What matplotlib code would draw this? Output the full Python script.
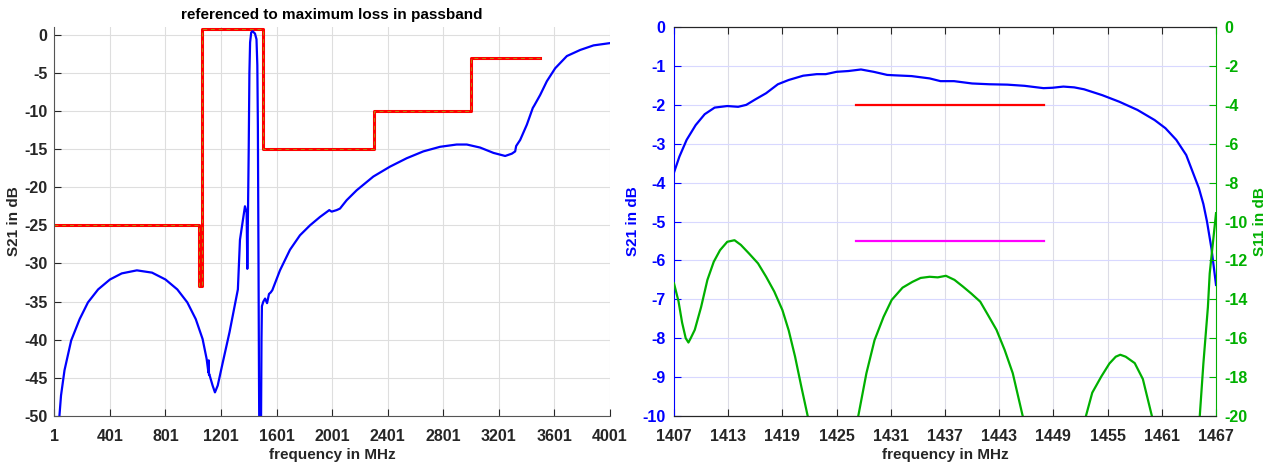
import numpy as np
import matplotlib
matplotlib.use('Agg')
import matplotlib.pyplot as plt

plt.rcParams['font.family'] = ['Liberation Sans', 'DejaVu Sans']
plt.rcParams['font.weight'] = 'bold'
plt.rcParams['font.size'] = 11
plt.rcParams['axes.unicode_minus'] = False

# wideband S21 (left panel)
wide_f = [37, 49, 74, 122, 183, 243, 316, 401, 486, 595, 704, 801, 886, 958, 1019, 1068,
          1097, 1110, 1112, 1114, 1116, 1140, 1157, 1177, 1213, 1262, 1322, 1337, 1373,
          1385, 1390, 1393, 1400, 1405, 1410, 1418, 1428, 1445, 1456, 1462, 1466, 1470,
          1474, 1477, 1484, 1489, 1492, 1495, 1505, 1518, 1532, 1546, 1558, 1570, 1625,
          1697, 1769, 1841, 1913, 1980, 1997, 2033, 2057, 2105, 2177, 2297, 2417, 2537,
          2657, 2777, 2897, 2970, 3066, 3162, 3246, 3294, 3318, 3325, 3354, 3402, 3445,
          3455, 3498, 3546, 3606, 3690, 3786, 3882, 4001]
wide_s21 = [-50.1, -47.3, -44, -40.1, -37.3, -35.1, -33.4, -32.1, -31.3, -30.9, -31.2,
            -32.1, -33.4, -35.1, -37.3, -39.9, -42.5, -44.3, -42.7, -44.6, -44.5, -46,
            -46.9, -46, -43, -39, -33.4, -26.9, -22.5, -23.3, -30.7, -26, -15, -5, -1,
            0.3, 0.45, 0.15, -0.6, -4, -12, -28, -45, -55, -55, -50, -40, -35.6, -35.0,
            -34.6, -35.2, -34.0, -33.8, -33.5, -30.9, -28.2, -26.3, -25.0, -23.9, -23.0,
            -23.2, -23.0, -22.8, -21.7, -20.4, -18.6, -17.3, -16.2, -15.3, -14.7, -14.4,
            -14.4, -14.8, -15.5, -15.9, -15.6, -15.3, -14.6, -13.8, -11.8, -9.6, -9.3,
            -7.9, -6.1, -4.4, -2.8, -2.0, -1.4, -1.1]

# limit mask (left panel)
mask_f = [1, 1040, 1040, 1065, 1065, 1500, 1500, 2300, 2300, 3000, 3000, 3500]
mask_db = [-25, -25, -33, -33, 0.8, 0.8, -15, -15, -10, -10, -3, -3]

# passband S21 (right panel, left axis)
pb_f = [1407, 1407.6, 1408.4, 1409.4, 1410.4, 1411.5, 1412.9, 1414.1, 1415.0, 1416.0,
        1417.2, 1418.5, 1419.7, 1421.3, 1422.8, 1423.8, 1425.0, 1426.3, 1427.7, 1429.1,
        1430.6, 1431.4, 1433.3, 1435.3, 1436.5, 1438.0, 1440.0, 1441.9, 1443.9, 1445.8,
        1447.9, 1448.9, 1450.1, 1451.3, 1452.4, 1454.4, 1456.3, 1458.3, 1460.2, 1461.4,
        1462.6, 1463.7, 1465.1, 1465.6, 1466.0, 1466.5, 1467]
pb_s21 = [-3.74, -3.33, -2.90, -2.52, -2.24, -2.07, -2.03, -2.05, -2.0, -1.86, -1.70,
          -1.47, -1.36, -1.25, -1.21, -1.21, -1.15, -1.13, -1.09, -1.15, -1.23, -1.24,
          -1.26, -1.32, -1.39, -1.39, -1.45, -1.47, -1.48, -1.51, -1.57, -1.56, -1.53,
          -1.55, -1.60, -1.75, -1.92, -2.13, -2.39, -2.60, -2.90, -3.29, -4.14, -4.55,
          -5.0, -5.7, -6.63]

# passband S11 (right panel, right axis)
s11_f = [1407, 1407.5, 1407.9, 1408.3, 1408.6, 1408.85, 1409.3, 1410.0, 1410.7, 1411.4,
         1412.1, 1412.9, 1413.7, 1414.4, 1415.3, 1416.3, 1417.2, 1418.1, 1419.0, 1419.7,
         1420.4, 1421.1, 1421.8, 1422.2,
         1427.0, 1427.4, 1428.3, 1429.2, 1430.2, 1431.1, 1432.3, 1433.4, 1434.3, 1435.3,
         1436.2, 1437.1, 1438.05, 1439.0, 1439.9, 1440.9, 1441.75, 1442.7, 1443.6,
         1444.5, 1445.6, 1446.0,
         1452.3, 1452.6, 1453.3, 1454.3, 1455.2, 1455.9, 1456.4, 1457.0, 1458.0, 1458.9,
         1459.9, 1460.2,
         1465.0, 1465.2, 1465.6, 1466.1, 1466.3, 1467]
s11_db = [-13.18, -14.1, -15.2, -16.0, -16.22, -16.0, -15.57, -14.4, -13.0, -12.07,
          -11.47, -11.04, -10.96, -11.2, -11.64, -12.15, -12.84, -13.6, -14.55, -15.6,
          -16.94, -18.5, -20, -21,
          -21, -20, -17.8, -16.1, -14.9, -14.03, -13.4, -13.1, -12.9, -12.84, -12.87,
          -12.79, -13.0, -13.35, -13.7, -14.12, -14.8, -15.57, -16.6, -17.8, -20, -21,
          -21, -20, -18.8, -17.97, -17.3, -16.95, -16.85, -16.95, -17.28, -18.1, -20, -21,
          -21, -20, -17.3, -14.4, -12.67, -9.57]

spec_f = [1427.1, 1448.0]
spec_s21 = [-2, -2]
spec_s11 = [-5.5, -5.5]

blue = '#0000ff'
green = '#00b000'
dark = '#262626'

fig = plt.figure(figsize=(12.76, 4.63), dpi=100)

# left panel
ax1 = fig.add_axes([0.0426, 0.1015, 0.4355, 0.840])
ax1.plot(mask_f, mask_db, color='red', lw=2.2)
ax1.plot(mask_f, mask_db, color='#b8860b', lw=0.7, ls=(0, (4, 4)))
ax1.plot(wide_f, wide_s21, color=blue, lw=1.6)
ax1.set_xlim(1, 4001)
ax1.set_ylim(-50, 1)
ax1.set_xticks(np.arange(1, 4002, 400))
ax1.set_yticks(np.arange(-50, 1, 5))
ax1.grid(True, color='#dedede', lw=0.8)
ax1.set_axisbelow(True)
for s in ['top', 'right']:
    ax1.spines[s].set_visible(False)
for s in ['left', 'bottom']:
    ax1.spines[s].set_color('#555555')
ax1.tick_params(direction='in', length=5, colors=dark, labelsize=11.5)
ax1.tick_params(axis='x', pad=9)
ax1.tick_params(axis='y', pad=5)
ax1.set_xlabel('frequency in MHz', fontweight='bold', color=dark, labelpad=3)
ax1.set_ylabel('S21 in dB', fontweight='bold', color=dark)
ax1.yaxis.set_label_coords(-0.06, 0.5)
ax1.set_title('referenced to maximum loss in passband', fontweight='bold', fontsize=11)

# right panel
ax2 = fig.add_axes([0.5282, 0.1015, 0.4248, 0.840])
ax3 = ax2.twinx()
ax2.plot(pb_f, pb_s21, color=blue, lw=1.6)
ax2.plot(spec_f, spec_s21, color='red', lw=1.6)
ax2.plot(spec_f, spec_s11, color='#ff00ff', lw=1.6)
ax3.plot(s11_f, s11_db, color=green, lw=1.6)
ax2.set_xlim(1407, 1467)
ax2.set_ylim(-10, 0)
ax3.set_ylim(-20, 0)
ax2.set_xticks(np.arange(1407, 1468, 6))
ax2.set_yticks(np.arange(-10, 0.1, 1))
ax3.set_yticks(np.arange(-20, 0.1, 2))
ax2.grid(True, axis='x', color='#dcdce6', lw=0.8)
ax2.grid(True, axis='y', color='#d8d8ff', lw=0.8)
ax2.set_axisbelow(True)
ax2.spines['left'].set_color(blue)
ax2.spines['right'].set_visible(False)
ax3.spines['left'].set_visible(False)
ax3.spines['right'].set_color(green)
ax3.spines['top'].set_color(dark)
ax3.spines['bottom'].set_color(dark)
ax2.spines['top'].set_color(dark)
ax2.tick_params(axis='x', direction='in', length=5, colors=dark, top=True,
                labelsize=11.5, pad=9)
ax2.tick_params(axis='y', direction='in', length=5, colors=blue, labelsize=11.5, pad=6)
ax3.tick_params(axis='y', direction='in', length=5, colors=green, labelsize=11.5, pad=6)
ax2.set_xlabel('frequency in MHz', fontweight='bold', color=dark, labelpad=3)
ax2.set_ylabel('S21 in dB', fontweight='bold', color=blue)
ax2.yaxis.set_label_coords(-0.063, 0.5)
ax3.set_ylabel('S11 in dB', fontweight='bold', color=green)
ax3.yaxis.set_label_coords(1.068, 0.5)

fig.savefig('out.png', dpi=100)
